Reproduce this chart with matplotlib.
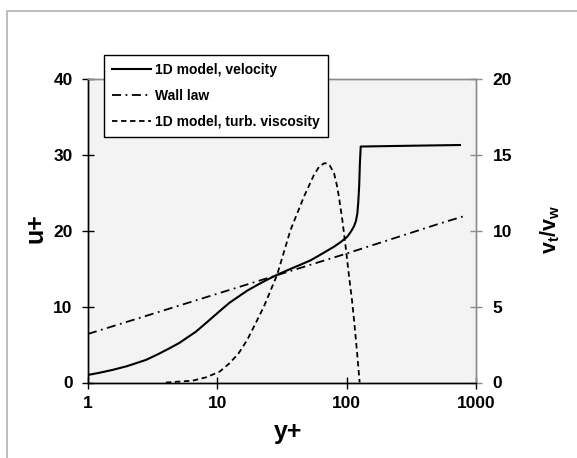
import matplotlib
matplotlib.use("Agg")
import matplotlib.pyplot as plt
from matplotlib.lines import Line2D

# ---- data ----
vel_yplus = [1, 1.2, 1.54, 2.0, 2.8, 3.5, 4.2, 5.07, 6.83, 8.0, 9.2, 11.0, 12.4, 14.8, 17.0,
             20.6, 24.0, 29, 36, 45, 52.6, 66.5, 79.8, 89.8, 101, 108, 114, 118, 121, 123,
             125, 126.5, 128.4, 300, 751]
vel_uplus = [1.0, 1.25, 1.65, 2.15, 2.97, 3.75, 4.45, 5.2, 6.7, 7.7, 8.6, 9.75, 10.5, 11.4, 12.1,
             12.9, 13.5, 14.2, 14.9, 15.6, 16.1, 17.1, 17.9, 18.5, 19.2, 19.9, 20.6, 21.3, 22.3, 23.8,
             26.0, 28.8, 31.1, 31.2, 31.3]

wall_yplus = [1, 10, 100, 535, 800]
wall_uplus = [6.4, 11.7, 17.0, 21.0, 21.9]

visc_yplus = [4.0, 6.44, 8.17, 10.4, 12.4, 14.6, 17.0, 19.5, 22.9, 29.0, 36.8, 46.7, 55.8,
              61.0, 66.7, 70.5, 74, 79.8, 84.0, 87.1, 92.6, 98.2, 104, 110, 115, 120, 126]
visc_ratio = [0, 0.12, 0.34, 0.71, 1.26, 1.92, 2.8, 3.8, 5.0, 7.1, 10.05, 12.24, 13.67,
              14.2, 14.44, 14.45, 14.3, 13.8, 13.0, 12.24, 10.7, 8.95, 7.1, 5.4, 3.8, 2.1, 0]

labels = ["1D model, velocity", "Wall law", "1D model, turb. viscosity"]
x_ticks = [1, 10, 100, 1000]
y_ticks_left = [0, 10, 20, 30, 40]
y_ticks_right = [0, 5, 10, 15, 20]

plt.rcParams['font.family'] = ['Liberation Sans', 'DejaVu Sans']
plt.rcParams['font.weight'] = 'bold'
plt.rcParams['mathtext.fontset'] = 'custom'
plt.rcParams['mathtext.rm'] = 'Liberation Sans:bold'
plt.rcParams['mathtext.bf'] = 'Liberation Sans:bold'
plt.rcParams['mathtext.it'] = 'Liberation Sans:bold'

W, H = 577, 458
fig = plt.figure(figsize=(W / 100, H / 100), dpi=100)
fig.patch.set_facecolor('white')

L, R, T, B = 88, 476, 79, 382.5
ax = fig.add_axes([L / W, 1 - B / H, (R - L) / W, (B - T) / H])
ax.set_facecolor('#f3f3f3')
ax2 = ax.twinx()

l1, = ax.plot(vel_yplus, vel_uplus, color='black', lw=1.5, solid_joinstyle='round')
l2, = ax.plot(wall_yplus, wall_uplus, color='black', lw=1.3, linestyle=(0, (5, 2.5, 1, 2.5)))
l3, = ax2.plot(visc_yplus, visc_ratio, color='black', lw=1.3, linestyle=(0, (3, 2)))

ax.set_xscale('log')
ax.set_xlim(1, 1000)
ax.set_ylim(0, 40)
ax2.set_ylim(0, 20)
ax.set_xticks(x_ticks)
ax.set_xticklabels([str(t) for t in x_ticks])
ax.xaxis.set_minor_locator(matplotlib.ticker.NullLocator())
ax.set_yticks(y_ticks_left)
ax2.set_yticks(y_ticks_right)

for a in (ax, ax2):
    for s in a.spines.values():
        s.set_linewidth(1.0)
ax.spines['left'].set_color('black')
ax.spines['bottom'].set_color('black')
for a in (ax, ax2):
    a.spines['top'].set_color('#8c8c8c')
    a.spines['right'].set_color('#8c8c8c')

ax.tick_params(axis='both', direction='inout', length=8, width=1.0, labelsize=12.5, pad=7)
ax.tick_params(axis='x', pad=6)
ax2.tick_params(axis='y', direction='inout', length=8, width=1.0, labelsize=12.5, pad=8,
                color='#8c8c8c')
for lab in ax.get_xticklabels() + ax.get_yticklabels() + ax2.get_yticklabels():
    lab.set_fontweight('bold')

fig.text(288 / W, 1 - 432 / H, "y+", fontsize=18, fontweight='bold', ha='center', va='center')
fig.text(35 / W, 1 - 228 / H, "u+", fontsize=18, fontweight='bold', ha='center', va='center',
         rotation=90)
fig.text(550 / W, 1 - 229 / H, r"$\mathbf{v_t/v_w}$", fontsize=15.5, ha='center', va='center',
         rotation=90)

leg = fig.legend([l1, l2, l3], labels, loc='upper left',
                 bbox_to_anchor=(104 / W, 1 - 55 / H), fancybox=False, framealpha=1,
                 edgecolor='black', fontsize=10, handlelength=2.8, labelspacing=0.85,
                 borderpad=0.6, handletextpad=0.3, borderaxespad=0)
leg.get_frame().set_linewidth(1.0)
for t in leg.get_texts():
    t.set_fontweight('bold')

# outer grey border (top and left visible)
fig.add_artist(Line2D([6.5 / W, 6.5 / W, 1.0], [0, 1 - 10.5 / H, 1 - 10.5 / H],
                      transform=fig.transFigure, color='#b0b0b0', lw=1.2))

fig.savefig('out.png', dpi=100)
